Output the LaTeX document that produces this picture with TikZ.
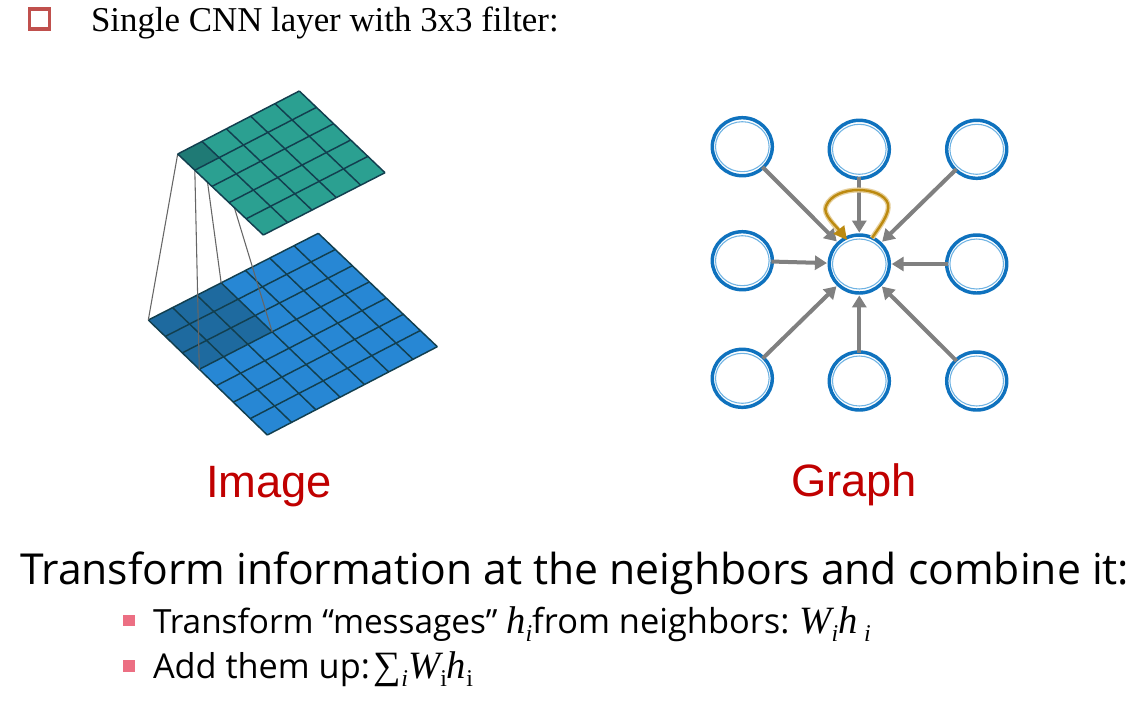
\documentclass[tikz,border=0pt]{standalone}
\usepackage{fontspec}
\setmainfont{Liberation Serif}
\newfontfamily\arialf{Liberation Sans}
\newfontfamily\segoef{Open Sans}
\usetikzlibrary{shapes.geometric,arrows.meta,calc}
\definecolor{tealc}{HTML}{2BA091}
\definecolor{tealdark}{HTML}{1F7A75}
\definecolor{bluec}{HTML}{2787D4}
\definecolor{bluedark}{HTML}{1E6A9F}
\definecolor{gridline}{HTML}{123F4F}
\definecolor{ringblue}{HTML}{0F72BE}
\definecolor{ringlight}{HTML}{6FB3E3}
\definecolor{arrowgray}{HTML}{808080}
\definecolor{gold}{HTML}{BC8A10}
\definecolor{goldlight}{HTML}{E6CF9A}
\definecolor{titlered}{HTML}{C00000}
\definecolor{bulletpink}{HTML}{EC6F83}
\definecolor{boxred}{HTML}{C0504D}
\newcommand{\sbi}[1]{\raisebox{-0.22em}{\fontsize{18}{18}\selectfont #1}}
\newlength{\pxu}\setlength{\pxu}{0.75pt}
\tikzset{
  gridl/.style={draw=gridline,line width=1.1pt},
  proj/.style={draw=black!60,line width=0.8pt},
  gnode/.style={ellipse,draw=ringblue,line width=2.6pt,fill=white,minimum width=60\pxu,minimum height=58\pxu,inner sep=0pt},
  inring/.style={draw=ringlight,line width=0.8pt},
  edge/.style={draw=arrowgray,line width=3pt,-{Triangle[length=9pt,width=10.5pt]},shorten >=0.5pt,shorten <=-2pt},
  selfedge/.style={draw=gold,line width=1.8pt,-{Triangle[length=10pt,width=10pt]},line join=round},
  selfhalo/.style={draw=goldlight,line width=3.8pt,line join=round},
  lbl/.style={anchor=base west,inner sep=0pt,outer sep=0pt},
  bigred/.style={anchor=base,inner sep=0pt,text=titlered,font=\arialf\fontsize{34}{36}\selectfont},
  pink/.style={fill=bulletpink,draw=none,minimum size=8.6pt,inner sep=0pt},
}
\begin{document}
\begin{tikzpicture}[x=0.75pt,y=-0.75pt]
\useasboundingbox[fill=white] (0,0) rectangle (1148,701);
% checkbox
\node[draw=boxred,line width=2.6pt,minimum size=15pt,inner sep=0pt] (chk) at (39.5,19) {};
\node[lbl,font=\fontsize{26.15}{28}\selectfont] (head) at (91,31) {Single CNN layer with 3x3 filter:};
% lower layer
\coordinate (bl) at (148.3,320); \coordinate (bt) at (318.3,233.3);
\coordinate (br) at (437.3,346.7); \coordinate (bb) at (267.3,435);
\coordinate (d1) at ($(bl)!3/7!(bt)$);
\coordinate (d3) at ($(bl)!3/7!(bb)$);
\coordinate (d2) at ($(d1)!3/7!($(bb)!3/7!(br)$)$);
\fill[bluec] (bl)--(bt)--(br)--(bb)--cycle;
\fill[bluedark] (bl)--(d1)--(d2)--(d3)--cycle;
\foreach \i in {0,...,7}{
  \draw[gridl] ($(bl)!\i/7!(bt)$) -- ($(bb)!\i/7!(br)$);
  \draw[gridl] ($(bl)!\i/7!(bb)$) -- ($(bt)!\i/7!(br)$);
}
% upper-layer coordinates
\coordinate (tl) at (177.7,154); \coordinate (tt) at (299.3,91);
\coordinate (tr) at (385,172.7); \coordinate (tb) at (263.3,235);
\coordinate (c1) at ($(tl)!1/5!(tt)$);
\coordinate (c3) at ($(tl)!1/5!(tb)$);
\coordinate (c2) at ($(c1)!1/5!($(tb)!1/5!(tr)$)$);
% projection lines
\draw[proj] (tl) -- (bl);
\draw[proj] (c3) -- (d3);
\draw[proj] (c1) -- (d1);
\draw[proj] (c2) -- (d2);
% upper layer
\fill[tealc] (tl)--(tt)--(tr)--(tb)--cycle;
\fill[tealdark] (tl)--(c1)--(c2)--(c3)--cycle;
\foreach \i in {0,...,5}{
  \draw[gridl] ($(tl)!\i/5!(tt)$) -- ($(tb)!\i/5!(tr)$);
  \draw[gridl] ($(tl)!\i/5!(tb)$) -- ($(tt)!\i/5!(tr)$);
}
% graph
\node[gnode] (n1) at (742.3,146.7) {};
\node[gnode] (n2) at (859.3,149.3) {};
\node[gnode] (n3) at (976.7,149.3) {};
\node[gnode] (n4) at (742.3,260.7) {};
\node[gnode] (c)  at (859.3,264) {};
\node[gnode] (n5) at (976.7,264) {};
\node[gnode] (n6) at (742.3,378.3) {};
\node[gnode] (n7) at (859.3,381) {};
\node[gnode] (n8) at (976.7,381) {};
\foreach \n in {n1,n2,n3,n4,c,n5,n6,n7,n8}{
  \draw[inring] (\n) ellipse (26.8 and 25);
}
\foreach \n in {n1,n2,n3,n4,n5,n6,n7,n8}{
  \draw[edge] (\n) -- (c);
}
\coordinate (ls) at (872,238);
\coordinate (le) at (847,240);
\draw[selfhalo] (ls) .. controls (880,226) and (890,214) .. (888,204) .. controls (883,186) and (835,184) .. (826,206) .. controls (822,214) and (836,226) .. (842,235);
\draw[selfedge] (ls) .. controls (880,226) and (890,214) .. (888,204) .. controls (883,186) and (835,184) .. (826,206) .. controls (822,214) and (836,226) .. (le);
% captions
\node[bigred] (img) at (269,497) {Image};
\node[bigred] (gra) at (854,496) {Graph};
\node[lbl,font=\segoef\fontsize{32}{36}\selectfont] (main) at (20,584) {Transform information at the neighbors and combine it:};
\node[pink] (b1) at (129,620.5) {};
\node[pink] (b2) at (129,666) {};
\node[lbl,font=\segoef\fontsize{25}{28}\selectfont] (t1) at (153,633) {Transform “messages” {\rmfamily\itshape\fontsize{29}{28}\selectfont h\sbi{i}}{\fontsize{25.8}{28}\selectfont from neighbors:}\hspace{7.5pt}{\rmfamily\itshape\fontsize{29}{28}\selectfont W\sbi{i}h\,\sbi{i}}};
\node[lbl,font=\segoef\fontsize{25.7}{28}\selectfont] (t2) at (153,678) {Add them up:\hspace{3pt}{\rmfamily\fontsize{29}{28}\selectfont ∑\itshape\sbi{i}W\upshape\sbi{i}\itshape h\upshape\sbi{i}}};
\end{tikzpicture}
\end{document}
